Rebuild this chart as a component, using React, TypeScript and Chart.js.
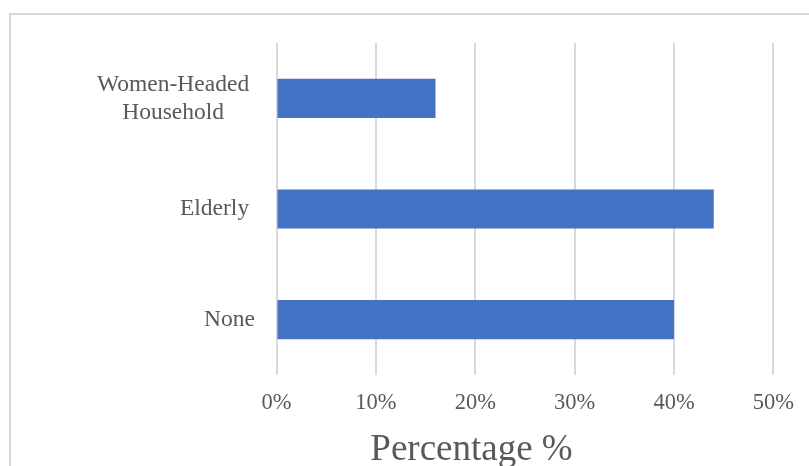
import React, { useEffect, useRef } from "react";
import { Chart, registerables } from "chart.js";

Chart.register(...registerables);

// Household categories, top to bottom
const categories: string[][] = [["Women-Headed ", "Household"], ["Elderly "], ["None"]];
// Share of respondents in each category (%)
const percentages: number[] = [16, 44, 40];
// Horizontal axis range and step (%)
const axisMin = 0;
const axisMax = 50;
const axisStep = 10;
const axisTitle = "Percentage %";

const TEXT = "#595959";
const GRID = "#d9d9d9";
const BAR = "#4472C4";
const FONT = "'Liberation Serif', 'Times New Roman', serif";

// Category labels beside the bars (multi-line labels centred line by line)
// and the horizontal axis title below the tick labels
const chartText = {
  id: "chartText",
  afterDraw(chart: Chart) {
    const { ctx, chartArea } = chart;
    const yScale = chart.scales.y;
    const right = chartArea.left - 21.5;
    const size = 23.5;
    const lineGap = 28;
    ctx.save();
    ctx.font = `${size}px ${FONT}`;
    ctx.fillStyle = TEXT;
    ctx.textBaseline = "middle";
    categories.forEach((lines, i) => {
      const cy = yScale.getPixelForValue(i);
      const fullW = Math.max(...lines.map((l) => ctx.measureText(l).width));
      const trimW = Math.max(...lines.map((l) => ctx.measureText(l.trimEnd()).width));
      const cx = right - fullW + trimW / 2;
      const y0 = cy - ((lines.length - 1) * lineGap) / 2;
      lines.forEach((l, j) => {
        if (lines.length === 1) {
          ctx.textAlign = "right";
          ctx.fillText(l, right, y0 + j * lineGap);
        } else {
          ctx.textAlign = "center";
          ctx.fillText(l.trimEnd(), cx, y0 + j * lineGap);
        }
      });
    });

    ctx.font = `37px ${FONT}`;
    ctx.textAlign = "center";
    ctx.textBaseline = "alphabetic";
    ctx.fillText(axisTitle, 471.5, 460);
    ctx.restore();
  },
};

export default function App() {
  const canvasRef = useRef<HTMLCanvasElement | null>(null);

  useEffect(() => {
    const canvas = canvasRef.current;
    if (!canvas) return;
    const chart = new Chart(canvas, {
      type: "bar",
      data: {
        labels: categories.map((c) => c.map((s) => s.trim()).join(" ")),
        datasets: [
          {
            data: percentages,
            backgroundColor: BAR,
            borderWidth: 0,
            categoryPercentage: 1,
            barPercentage: 0.354,
          },
        ],
      },
      options: {
        indexAxis: "y",
        responsive: false,
        animation: false,
        layout: { padding: { left: 276.5, right: 32.5, top: 43, bottom: 34 } },
        plugins: {
          legend: { display: false },
          tooltip: { enabled: false },
        },
        scales: {
          x: {
            min: axisMin,
            max: axisMax,
            border: { display: false },
            grid: { color: GRID, lineWidth: 2, drawTicks: false },
            ticks: {
              stepSize: axisStep,
              padding: 15,
              color: TEXT,
              font: { family: FONT, size: 22.5 },
              callback: (v) => `${v}%`,
            },
          },
          y: {
            display: false,
          },
        },
      },
      plugins: [chartText],
    });
    return () => chart.destroy();
  }, []);

  return (
    <div style={{ position: "fixed", left: 0, top: 0, width: 809, height: 466, background: "#fff", overflow: "hidden" }}>
      <div
        style={{
          position: "absolute",
          left: 8.5,
          top: 12.5,
          width: 900,
          height: 600,
          border: `2px solid ${GRID}`,
          boxSizing: "border-box",
        }}
      />
      <canvas
        ref={canvasRef}
        width={809}
        height={466}
        style={{ position: "absolute", left: 0, top: 0, width: 809, height: 466 }}
      />
    </div>
  );
}
